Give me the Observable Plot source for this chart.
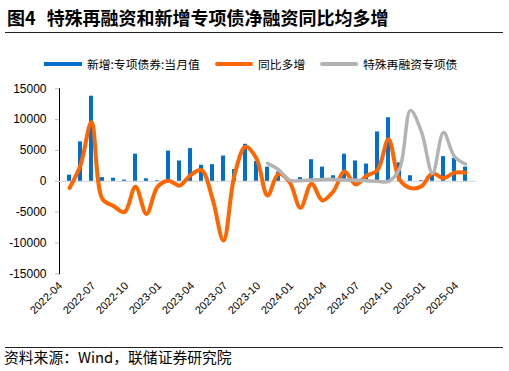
<!DOCTYPE html>
<html>
<head>
<meta charset="utf-8">
<script src="https://cdn.jsdelivr.net/npm/d3@7"></script>
<script src="https://cdn.jsdelivr.net/npm/@observablehq/plot@0.6"></script>
<style>
  html, body { margin: 0; padding: 0; background: #fff; }
  body { width: 509px; height: 371px; position: relative; overflow: hidden;
         font-family: "Liberation Sans", Arial, "Noto Sans CJK SC", sans-serif; color: #000; }
  #title { position: absolute; left: 7px; top: 5px; font-family: "Noto Sans CJK SC", sans-serif;
           font-weight: bold; font-size: 18px; line-height: 24px; white-space: nowrap; }
  #title .num { margin-right: 11px; }
  .rule { position: absolute; left: 5px; width: 498px; height: 0; border-top: 1.3px solid #222; }
  #legend { position: absolute; top: 56px; left: 0; width: 509px; height: 16px;
            font-family: "Noto Sans CJK SC", sans-serif; font-size: 11.8px; line-height: 16px; }
  .item { position: absolute; top: 0; white-space: nowrap; }
  .sw { position: absolute; top: 6px; width: 38px; height: 4px; }
  .lab { position: absolute; top: 0; left: 43px; }
  #chart { position: absolute; left: 0; top: 80px; }
  #source { position: absolute; left: 4px; top: 347px; font-family: "Noto Sans CJK SC", sans-serif;
            font-size: 14.8px; line-height: 20px; white-space: nowrap; }
  #chart g[aria-label^="y-axis"] line, #chart g[aria-label^="y-axis"] path { stroke: #bfbfbf; }
</style>
</head>
<body>
<div id="title"><span class="num">图4</span>特殊再融资和新增专项债净融资同比均多增</div>
<div class="rule" style="top:32px"></div>
<div id="legend"></div>
<div id="chart"></div>
<div class="rule" style="top:347px"></div>
<div id="source">资料来源：Wind，联储证券研究院</div>
<script>
const months = [
  "2022-04","2022-05","2022-06","2022-07","2022-08","2022-09","2022-10","2022-11","2022-12",
  "2023-01","2023-02","2023-03","2023-04","2023-05","2023-06","2023-07","2023-08","2023-09","2023-10","2023-11","2023-12",
  "2024-01","2024-02","2024-03","2024-04","2024-05","2024-06","2024-07","2024-08","2024-09","2024-10","2024-11","2024-12",
  "2025-01","2025-02","2025-03","2025-04"
];
// 新增:专项债券:当月值
const newSpecial = [1000,6400,13800,600,500,200,4400,400,100,
  4900,3300,5300,2600,2700,4100,1900,6000,3200,2300,1500,100,
  600,3500,2300,900,4400,3300,2800,8000,10300,3000,900,100,
  1400,4000,3700,2300];
// 同比多增
const yoyIncrease = [-1100,2600,9600,-2900,-4000,-5000,-900,-5300,-900,
  100,-700,1000,1800,-2800,-9600,1000,5600,3700,-2300,1200,-100,
  -4300,-400,-3100,-1600,1600,-500,900,1800,6800,300,-1100,-800,
  1300,500,1400,1400];
// 特殊再融资专项债 (from 2023-10)
const refiMonths = months.slice(18);
const refiSpecial = [2900,1900,200,
  100,200,300,300,200,200,100,0,0,2000,11500,8000,
  1300,7900,4000,2800];
const tickMonths = months.filter((d, i) => i % 3 === 0);
const yTicks = [-15000,-10000,-5000,0,5000,10000,15000];
const seriesNames = ["新增:专项债券:当月值", "同比多增", "特殊再融资专项债"];
const colors = ["#0070CC", "#FF6600", "#B3B3B3"];

const rows = months.map((m, i) => ({month: m, bar: newSpecial[i], yoy: yoyIncrease[i]}));
const refiRows = refiMonths.map((m, i) => ({month: m, v: refiSpecial[i]}));

// legend
const legend = document.getElementById("legend");
const legendX = [44, 215, 320];
seriesNames.forEach((name, i) => {
  const it = document.createElement("div");
  it.className = "item";
  it.style.left = legendX[i] + "px";
  const sw = document.createElement("div");
  sw.className = "sw";
  sw.style.background = colors[i];
  if (i > 0) sw.style.borderRadius = "2px";
  const lb = document.createElement("div");
  lb.className = "lab";
  lb.textContent = name;
  it.appendChild(sw); it.appendChild(lb);
  legend.appendChild(it);
});

const chart = Plot.plot({
  width: 509,
  height: 240,
  marginTop: 8.3,
  marginBottom: 46.7,
  marginLeft: 59,
  marginRight: 33.4,
  style: {fontFamily: "'Liberation Sans', Arial, sans-serif", fontSize: "12px", color: "#000", background: "transparent"},
  x: {type: "band", domain: months, paddingInner: 0.62, paddingOuter: 0.31},
  y: {domain: [-15000, 15000], ticks: yTicks, tickSize: 4, tickPadding: 9, line: true,
      tickFormat: d => String(d), label: null},
  marks: [
    Plot.axisX({ticks: tickMonths, tickSize: 0, tickRotate: -45, tickPadding: 4, dx: -9, dy: 6,
                fontSize: 11, label: null}),
    Plot.ruleY([0], {stroke: "#d9d9d9", strokeWidth: 1.2}),
    Plot.barY(rows, {x: "month", y: "bar", fill: colors[0]}),
    Plot.line(rows, {x: "month", y: "yoy", stroke: colors[1], strokeWidth: 4, curve: "catmull-rom"}),
    Plot.line(refiRows, {x: "month", y: "v", stroke: colors[2], strokeWidth: 3.5, curve: "catmull-rom"})
  ]
});
document.getElementById("chart").appendChild(chart);
</script>
</body>
</html>
